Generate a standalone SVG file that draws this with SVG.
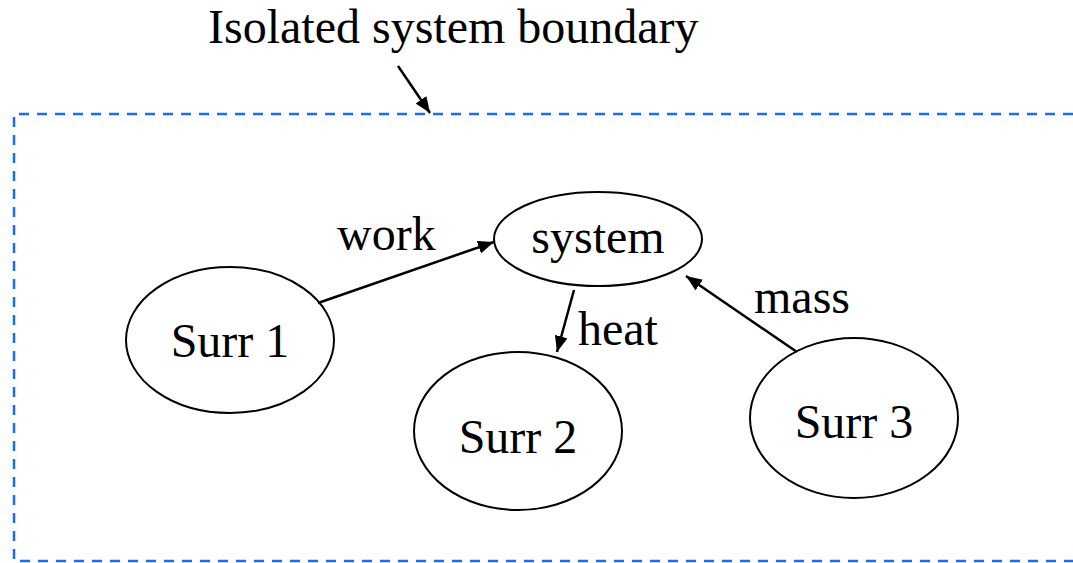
<svg xmlns="http://www.w3.org/2000/svg" width="1073" height="563" viewBox="0 0 1073 563">
<style>
text{font-family:"Liberation Serif","Times New Roman",serif;font-size:48px;fill:#000}
.n ellipse{fill:#fff;stroke:#000;stroke-width:2}
.c line{stroke:#000;stroke-width:2.5;marker-end:url(#ah)}
.b{fill:none;stroke:#1a6cff;stroke-width:2.5;stroke-dasharray:10 8}
</style>
<defs>
<marker id="ah" viewBox="0 0 10 10" refX="10" refY="5" markerWidth="16" markerHeight="13" markerUnits="userSpaceOnUse" orient="auto" preserveAspectRatio="none"><path d="M0,0 L10,5 L0,10 z" fill="#000"/></marker>
</defs>
<g id="boundary">
<path class="b" d="M1073,114 H14 V561 H1073"/>
<text x="208" y="43">Isolated system boundary</text>
</g>
<g id="system" class="n"><ellipse cx="598" cy="239" rx="104" ry="47"/><text x="598" y="253" text-anchor="middle">system</text></g>
<g id="surr1" class="n"><ellipse cx="230" cy="340" rx="104" ry="73"/><text x="230" y="357" text-anchor="middle">Surr 1</text></g>
<g id="surr2" class="n"><ellipse cx="518" cy="431" rx="104" ry="79"/><text x="518" y="453" text-anchor="middle">Surr 2</text></g>
<g id="surr3" class="n"><ellipse cx="854" cy="418" rx="104" ry="80"/><text x="854" y="438" text-anchor="middle">Surr 3</text></g>
<g id="connectors" class="c">
<line x1="398" y1="66" x2="430" y2="113"/>
<line x1="318" y1="303" x2="494" y2="242"/>
<line x1="574" y1="290" x2="557" y2="352"/>
<line x1="797" y1="352" x2="686" y2="276"/>
<text x="337" y="250">work</text>
<text x="578" y="345">heat</text>
<text x="754" y="313">mass</text>
</g>
</svg>
